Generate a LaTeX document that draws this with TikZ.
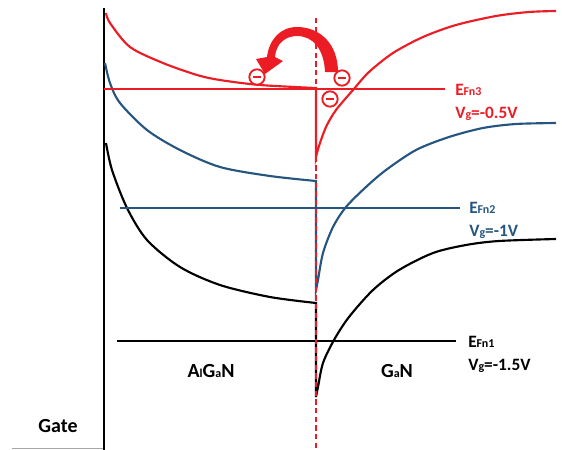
\documentclass[tikz,border=0pt]{standalone}
\usepackage{fontspec}
\setmainfont{Carlito}
\usetikzlibrary{arrows.meta,positioning}
\definecolor{bandred}{RGB}{236,28,36}
\definecolor{bandblue}{RGB}{38,86,128}
\newcommand{\subsm}[1]{{\fontsize{9}{9}\selectfont #1}}

\begin{document}
\begin{tikzpicture}[x=0.75pt, y=-0.75pt,
          band/.style={line width=1.6pt},
          fermi/.style={line width=1.5pt},
          lbl/.style={anchor=base west, inner sep=0pt,
                      font=\bfseries\fontsize{13}{13}\selectfont},
          layer/.style={anchor=base, inner sep=0pt,
                        font=\bfseries\fontsize{15}{15}\selectfont},
          electron/.style={circle, draw=bandred, fill=white,
                           line width=1.4pt, minimum size=11.5pt, inner sep=0pt}]
        \useasboundingbox (0,0) rectangle (562,450);
        % gate contact
        \draw[line width=2pt] (104,8) -- (104,450);
        \draw[gray!70, line width=0.6pt] (12,448) -- (103,448);
        % conduction bands, Vg=-0.5V
        \draw[band, bandred] plot[smooth] coordinates {(106,13) (110,23) (130,47)
          (163,63) (197,75) (220,80) (260,85) (316,88)}
          -- plot[smooth] coordinates {(316,157) (319,146) (326,127) (336,110)
          (353,90) (369,72) (393,53) (423,37) (456,25) (496,16) (529,12) (556,11)};
        % Vg=-1V
        \draw[band, bandblue] plot[smooth] coordinates {(105,63) (110,83) (120,103)
          (147,130) (180,150) (220,167) (270,176) (316,181)}
          -- plot[smooth] coordinates {(316,290) (318,280) (323,253) (333,227)
          (346,207) (366,187) (386,170) (416,150) (449,137) (483,128) (516,124) (556,123)};
        % Vg=-1.5V
        \draw[band] plot[smooth] coordinates {(106,143) (112,170) (127,208)
          (147,240) (180,267) (220,285) (270,297) (316,303)}
          -- plot[smooth] coordinates {(316,397) (318,387) (323,363) (334,340)
          (349,317) (373,290) (399,270) (433,253) (466,245) (499,241) (556,239)};
        % quasi Fermi levels
        \coordinate (f3) at (445,89);
        \coordinate (f2) at (460,208);
        \coordinate (f1) at (456,341);
        \draw[fermi, bandred] (104,89) -- (f3);
        \draw[fermi, bandblue] (120,208) -- (f2);
        \draw[fermi] (117,341) -- (f1);
        % interface
        \draw[bandred, line width=1.3pt, dash pattern=on 4pt off 2.5pt] (316,18) -- (316,450);
        % electron transfer
        \fill[bandred] (338,72) .. controls (338,44) and (320,27) .. (297,27)
          .. controls (280,27) and (269,40) .. (267,57)
          -- (256,59) -- (265,74) -- (283,61) -- (275,57)
          .. controls (276,43) and (286,36) .. (297,36)
          .. controls (313,36) and (324,49) .. (325,72) -- cycle;
        \node[electron] (e1) at (257,77) {\textcolor{bandred}{\rule{6.5pt}{2.2pt}}};
        \node[electron] (e2) at (342,78) {\textcolor{bandred}{\rule{6.5pt}{2.2pt}}};
        \node[electron] (e3) at (330,99) {\textcolor{bandred}{\rule{6.5pt}{2.2pt}}};
        % labels
        \node[lbl, text=bandred] (ef3) at (455,95) {E\subsm{Fn3}};
        \node[lbl, text=bandred] (vg3) at (455,118) {V\subsm{g}=-0.5V};
        \node[lbl, text=bandblue] (ef2) at (469,213) {E\subsm{Fn2}};
        \node[lbl, text=bandblue] (vg2) at (469,236) {V\subsm{g}=-1V};
        \node[lbl] (ef1) at (468,347) {E\subsm{Fn1}};
        \node[lbl] (vg1) at (468,370) {V\subsm{g}=-1.5V};
        \node[layer] (algan) at (211,377) {A\subsm{l}G\subsm{a}N};
        \node[layer] (gan) at (397,377) {G\subsm{a}N};
        \node[layer] (gate) at (58,432) {Gate};
      \end{tikzpicture}
\end{document}
